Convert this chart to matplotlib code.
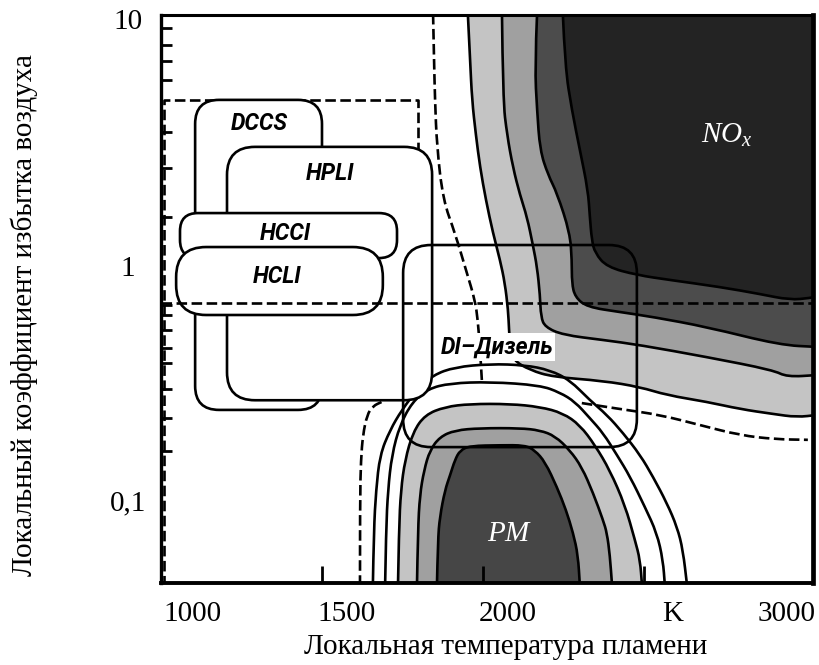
import matplotlib.pyplot as plt
from matplotlib.patches import FancyBboxPatch, PathPatch
from matplotlib.path import Path
from matplotlib.ticker import FixedLocator, NullFormatter, NullLocator
from matplotlib.transforms import ScaledTranslation

plt.rcParams['font.family'] = ['Liberation Serif', 'DejaVu Serif']
plt.rcParams['mathtext.fontset'] = 'custom'
plt.rcParams['mathtext.it'] = 'Liberation Serif:italic'
plt.rcParams['mathtext.rm'] = 'Liberation Serif'

# flame temperature T (K) vs local excess-air ratio lambda

# NOx zone boundaries, outer to inner (top edge -> right edge)
nox1_T = [1953, 1960, 1966, 1978, 1991, 2009, 2031, 2053, 2068, 2078, 2081, 2084,
          2093, 2146, 2217, 2373, 2488, 2571, 2696, 2798, 2901, 2975, 3040]
nox1_lam = [10.5, 6.76, 4.61, 3.29, 2.42, 1.77, 1.29, 0.995, 0.798, 0.617, 0.509, 0.441,
            0.382, 0.347, 0.325, 0.313, 0.295, 0.273, 0.256, 0.239, 0.228, 0.221, 0.226]
nox2_T = [2059, 2062, 2075, 2093, 2115, 2137, 2155, 2168, 2177, 2180, 2193, 2248,
          2373, 2488, 2696, 2901, 2944, 3040]
nox2_lam = [10.5, 4.61, 3.29, 2.42, 1.854, 1.50, 1.149, 0.931, 0.712, 0.577, 0.524, 0.486,
            0.463, 0.441, 0.393, 0.347, 0.325, 0.331]
nox3_T = [2168, 2161, 2168, 2177, 2202, 2230, 2270, 2276, 2276, 2286, 2323, 2425,
          2528, 2696, 2922, 3040]
nox3_lam = [10.5, 6.32, 4.19, 2.85, 2.25, 1.89, 1.29, 0.995, 0.798, 0.699, 0.635, 0.605,
            0.577, 0.524, 0.441, 0.433]
nox4_T = [2248, 2255, 2276, 2301, 2326, 2332, 2338, 2348, 2385, 2478, 2581, 2736,
          2860, 2953, 3016, 3040]
nox4_lam = [10.5, 6.32, 4.19, 2.85, 1.945, 1.50, 1.205, 1.064, 0.931, 0.862, 0.822, 0.769,
            0.719, 0.679, 0.692, 0.703]

# PM (soot) zone boundaries, inner to outer (bottom edge -> bottom edge)
pm1_T = [1857, 1860, 1866, 1882, 1898, 1913, 1929, 1960, 2053, 2130, 2161, 2193,
         2230, 2258, 2280, 2295, 2301]
pm1_lam = [0.044, 0.0682, 0.0850, 0.110, 0.127, 0.147, 0.161, 0.168, 0.169, 0.169, 0.161, 0.144,
           0.113, 0.0909, 0.0729, 0.0591, 0.044]
pm2_T = [1795, 1798, 1804, 1817, 1835, 1866, 1913, 1991, 2115, 2177, 2224, 2270,
         2307, 2342, 2373, 2385, 2394, 2401]
pm2_lam = [0.044, 0.0750, 0.105, 0.133, 0.161, 0.183, 0.195, 0.199, 0.199, 0.195, 0.1845, 0.161,
           0.137, 0.107, 0.0825, 0.0729, 0.0591, 0.044]
pm3_T = [1736, 1739, 1745, 1758, 1783, 1820, 1882, 1960, 2084, 2177, 2248, 2301,
         2348, 2394, 2441, 2472, 2488, 2494]
pm3_lam = [0.044, 0.0750, 0.110, 0.147, 0.192, 0.226, 0.244, 0.251, 0.251, 0.244, 0.230, 0.205,
           0.169, 0.133, 0.0953, 0.0682, 0.0563, 0.044]
pm4_T = [1696, 1699, 1705, 1717, 1742, 1780, 1829, 1898, 2022, 2177, 2239, 2286,
         2332, 2373, 2416, 2457, 2503, 2540, 2559, 2565]
pm4_lam = [0.044, 0.0750, 0.110, 0.154, 0.205, 0.255, 0.290, 0.306, 0.310, 0.300, 0.280, 0.256,
           0.219, 0.190, 0.154, 0.125, 0.0935, 0.0729, 0.0563, 0.044]
pm5_T = [1658, 1661, 1668, 1680, 1711, 1748, 1795, 1845, 1913, 2022, 2130, 2208,
         2270, 2332, 2385, 2435, 2488, 2528, 2571, 2603, 2621, 2634]
pm5_lam = [0.044, 0.0750, 0.110, 0.154, 0.195, 0.237, 0.287, 0.331, 0.357, 0.368, 0.364, 0.347,
           0.315, 0.260, 0.226, 0.190, 0.154, 0.125, 0.0972, 0.0772, 0.0620, 0.044]

# dashed limit lines
noxd_upper_T = [1845, 1848, 1851, 1857, 1876, 1913, 1950, 1975, 1984, 1991, 1997]
noxd_upper_lam = [10.5, 6.76, 4.61, 2.94, 1.77, 1.29, 0.879, 0.679, 0.560, 0.420, 0.307]
noxd_lower_T = [2307, 2425, 2550, 2674, 2798, 2907, 3009]
noxd_lower_lam = [0.253, 0.239, 0.226, 0.205, 0.186, 0.179, 0.178]
pmd_T = [1618, 1618, 1621, 1627, 1640, 1658, 1686]
pmd_lam = [0.044, 0.100, 0.147, 0.186, 0.226, 0.246, 0.256]
lam_stoich = 0.659
frame_T = [1008, 1798]
frame_lam = [0.044, 4.61, 2.85]

# combustion concepts
box_names = ['DCCS', 'HPLI', 'HCCI', 'HCLI', 'DI\u2013Дизель']
box_T_lo = [1106, 1205, 1059, 1047, 1752]
box_T_hi = [1500, 1842, 1733, 1689, 2478]
box_lam_lo = [0.237, 0.260, 1.014, 0.588, 0.166]
box_lam_hi = [4.61, 2.94, 1.56, 1.127, 1.149]

x_ticks = [1000, 1500, 2000, 2500, 3000]
x_ticklabels = ['1000', '1500', '2000', 'K', '3000']
y_ticks = [0.1, 1, 10]
y_ticklabels = ['0,1', '1', '10']
y_spine_ticks = [9.2, 7.8, 6.7, 5.6, 3.4, 2.4, 1.5, 0.65, 0.59, 0.51, 0.43, 0.37,
                 0.29, 0.22, 0.16, 0.1]


def smooth_path(T, lam, tail=()):
    """Quadratic Bezier through the midpoints of the polyline (log-midpoints in lambda)."""
    pts = list(zip(T, lam))
    verts, codes = [pts[0]], [Path.MOVETO]
    for i in range(1, len(pts) - 1):
        (x0, y0), (x1, y1) = pts[i], pts[i + 1]
        verts += [pts[i], ((x0 + x1) / 2, (y0 * y1) ** 0.5)]
        codes += [Path.CURVE3, Path.CURVE3]
    verts.append(pts[-1])
    codes.append(Path.LINETO)
    for p in tail:
        verts.append(p)
        codes.append(Path.LINETO)
    return Path(verts, codes)


def curve(ax, T, lam, **kw):
    ax.add_patch(PathPatch(smooth_path(T, lam), fill=False, edgecolor='k', lw=1.9,
                           capstyle='butt', **kw))


fig = plt.figure(figsize=(8.2, 6.65), dpi=100)
ax = fig.add_axes([161 / 820, 82 / 665, 652 / 820, 568 / 665])
ax.set_yscale('log')
ax.set_xlim(1000, 3025)
ax.set_ylim(0.0452, 10.39)
lam_top = ax.get_ylim()[1] * 1.2

# NOx zones
nox_colors = ['#c4c4c4', '#a0a0a0', '#4c4c4c', '#232323']
for T, lam, c in zip([nox1_T, nox2_T, nox3_T, nox4_T],
                     [nox1_lam, nox2_lam, nox3_lam, nox4_lam], nox_colors):
    ax.add_patch(PathPatch(smooth_path(T, lam, [(T[-1], lam_top), (T[0], lam_top)]),
                           facecolor=c, edgecolor='none', zorder=1))
    curve(ax, T, lam, zorder=2)

# PM zones
pm_colors = [None, None, '#c4c4c4', '#a0a0a0', '#464646']
for T, lam, c in zip([pm5_T, pm4_T, pm3_T, pm2_T, pm1_T],
                     [pm5_lam, pm4_lam, pm3_lam, pm2_lam, pm1_lam], pm_colors):
    if c:
        ax.add_patch(PathPatch(smooth_path(T, lam, [(T[0], lam[0])]),
                               facecolor=c, edgecolor='none', zorder=1))
    curve(ax, T, lam, zorder=2)

dash = (0, (4, 1.7))
curve(ax, noxd_upper_T, noxd_upper_lam, ls=dash, zorder=2)
curve(ax, noxd_lower_T, noxd_lower_lam, ls=dash, zorder=2)
curve(ax, pmd_T, pmd_lam, ls=dash, zorder=2)
ax.plot([frame_T[0], frame_T[0], frame_T[1], frame_T[1]],
        [frame_lam[0], frame_lam[1], frame_lam[1], frame_lam[2]],
        color='k', lw=1.9, ls=dash, zorder=2.5)

# rounded boxes, drawn in axes fraction so the corners stay circular
bb = ax.get_window_extent()
aspect = bb.width / bb.height
to_axes = ax.transData + ax.transAxes.inverted()
radii = [24, 28, 18, 30, 28]
for i, r in enumerate(radii):
    (x0, y0), (x1, y1) = to_axes.transform([(box_T_lo[i], box_lam_lo[i]),
                                            (box_T_hi[i], box_lam_hi[i])])
    last = i == len(radii) - 1
    ax.add_patch(FancyBboxPatch(
        (x0, y0), x1 - x0, y1 - y0,
        boxstyle=f'round,pad=0,rounding_size={r / bb.width}',
        mutation_aspect=aspect, transform=ax.transAxes,
        facecolor='none' if last else 'white', edgecolor='k', lw=1.9,
        zorder=4 if last else 3 + 0.1 * i))

ax.axhline(lam_stoich, color='k', lw=1.9, ls=dash, zorder=4.5)

label_kw = dict(family=['Roboto', 'DejaVu Sans'], style='italic', weight='bold',
                fontsize=16.5, ha='center', va='center', zorder=6)
label_pos = [(1304, 3.66), (1525, 2.27), (1385, 1.28), (1360, 0.846)]
for name, (tx, ly) in zip(box_names[:4], label_pos):
    ax.text(tx, ly, name, **label_kw)
ax.text(2043, 0.433, box_names[4],
        bbox=dict(facecolor='white', edgecolor='none', pad=1.5), **label_kw)

ax.text(2758, 3.29, r'$NO_x$', color='white', fontsize=21, ha='center', va='center', zorder=6)
ax.text(2084, 0.0722, r'$PM$', color='white', fontsize=21, ha='center', va='center', zorder=6)

# axes, ticks
for side, w in zip(['left', 'right', 'top', 'bottom'], [2.4, 3.4, 2.2, 2.8]):
    ax.spines[side].set_linewidth(w)
    ax.spines[side].set_zorder(7)

ax.set_xticks(x_ticks)
ax.set_xticklabels(x_ticklabels)
ax.xaxis.set_minor_locator(NullLocator())
ax.tick_params(axis='x', which='major', direction='in', length=12, width=2,
               labelsize=21, pad=13)
ax.set_yticks(y_ticks)
ax.set_yticklabels(y_ticklabels)
ax.yaxis.set_minor_locator(FixedLocator(y_spine_ticks))
ax.yaxis.set_minor_formatter(NullFormatter())
ax.tick_params(axis='y', which='major', length=0, labelsize=21, pad=24)
ax.tick_params(axis='y', which='minor', direction='in', length=8, width=2)
for lbl in ax.get_yticklabels():
    lbl.set_horizontalalignment('center')

xt = ax.xaxis.get_major_ticks()
xt[0].tick1line.set_visible(False)
xt[-1].tick1line.set_visible(False)
for lbl, dx in zip(ax.get_xticklabels(), [32, 25, 25, 29, -18]):
    lbl.set_transform(lbl.get_transform() + ScaledTranslation(dx / 100, 0, fig.dpi_scale_trans))
for lbl, dy in zip(ax.get_yticklabels(), [0, -6, 0]):
    lbl.set_transform(lbl.get_transform() + ScaledTranslation(0, dy / 100, fig.dpi_scale_trans))

ax.set_xlabel('Локальная температура пламени', fontsize=21, va='baseline')
ax.xaxis.set_label_coords(0.529, -0.125)
ax.set_ylabel('Локальный коэффициент избытка воздуха', fontsize=21, va='center')
ax.yaxis.set_label_coords(-0.210, 0.472)

fig.savefig('out.png', dpi=100)
